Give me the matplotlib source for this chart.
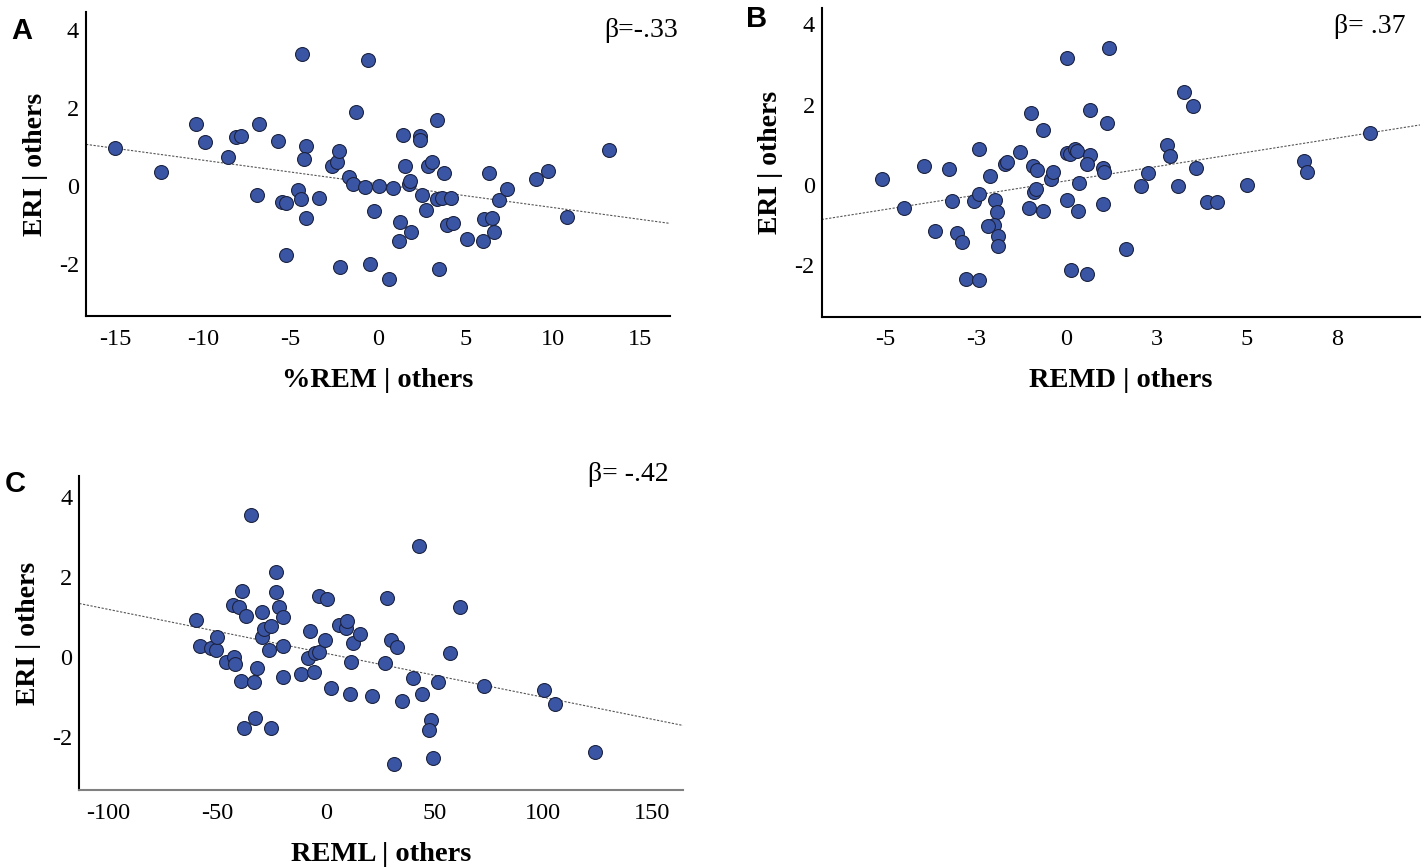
"""
Partial regression plots of ERI against REM sleep measures.
"""
import matplotlib
matplotlib.use('Agg')
import matplotlib.pyplot as plt
import numpy as np

# Panel A: %REM | others vs ERI | others
remPct_x = [-15.03, -12.4, -10.4, -9.92, -8.59, -8.13, -7.85, -6.82, -6.95, -5.75,
            -5.49, -5.28, -5.24, -4.57, -4.42, -4.36, -4.13, -4.23, -4.10, -3.37,
            -2.61, -2.36, -2.21, -2.17, -1.68, -1.41, -1.26, -0.74, -0.59, -0.47,
            -0.25, 0.08, 0.88, 0.65, 1.41, 1.52, 1.26, 1.20, 1.87, 1.75,
            1.85, 2.40, 2.40, 2.53, 2.76, 2.88, 3.09, 3.39, 3.39, 3.64,
            3.79, 4.17, 3.49, 3.92, 4.30, 5.07, 6.02, 6.06, 6.51, 6.65,
            6.36, 6.91, 7.35, 9.03, 9.73, 10.78, 13.18]
remPct_y = [0.97, 0.35, 1.59, 1.14, 0.75, 1.25, 1.29, 1.60, -0.24, 1.15,
            -0.42, -0.44, -1.78, -0.09, -0.33, 3.39, 1.02, 0.69, -0.81, -0.31,
            0.51, 0.61, 0.91, -2.07, 0.22, 0.06, 1.90, -0.03, 3.25, -2.00,
            -0.65, 0.00, -0.06, -2.40, 1.32, 0.51, -0.92, -1.41, -1.19, 0.04,
            0.14, 1.29, 1.18, -0.24, -0.62, 0.52, 0.63, 1.69, -0.34, -0.30,
            0.34, -0.32, -2.12, -0.99, -0.94, -1.36, -1.41, -0.85, -0.82, -1.17,
            0.33, -0.37, -0.07, 0.18, 0.38, -0.80, 0.93]

# Panel B: REMD | others vs ERI | others
remd_x = [-5.09, -4.49, -3.94, -3.63, -3.24, -3.16, -3.03, -2.88, -2.78, -2.42,
          -2.40, -2.56, -2.40, -2.12, -1.97, -1.92, -1.99, -2.15, -1.90, -1.90,
          -1.69, -1.63, -1.27, -0.98, -0.92, -0.81, -1.03, -0.88, -0.83, -0.65,
          -0.65, -0.41, -0.37, 0.02, 0.02, 0.11, 0.25, 0.31, 0.02, 0.36,
          0.32, 0.13, 0.58, 0.66, 0.66, 0.58, 1.01, 1.06, 1.01, 1.13,
          1.19, 1.65, 2.06, 2.26, 2.80, 2.89, 3.10, 3.26, 3.50, 3.59,
          3.91, 4.17, 5.00, 6.60, 6.66, 8.41]
remd_y = [0.15, -0.58, 0.47, -1.14, 0.40, -0.40, -1.20, -1.41, -2.33, -2.37,
          0.89, -0.40, -0.22, 0.22, -0.37, -0.68, -0.99, -1.02, -1.27, -1.53,
          0.53, 0.58, 0.82, 1.80, 0.46, 0.37, -0.57, -0.18, -0.10, 1.37,
          -0.64, 0.14, 0.33, 3.16, 0.80, 0.76, 0.89, 0.85, -0.37, 0.05,
          -0.64, -2.12, -2.21, 1.87, 0.74, 0.52, 0.43, 0.32, -0.47, 1.53,
          3.41, -1.60, -0.02, 0.30, 1.00, 0.72, -0.02, 2.32, 1.97, 0.42,
          -0.42, -0.42, 0.00, 0.59, 0.33, 1.30]

# Panel C: REML | others vs ERI | others
reml_x = [-59.8, -57.8, -52.9, -50.5, -49.9, -46.0, -42.2, -41.7, -42.5, -39.7,
          -38.4, -36.5, -39.1, -33.0, -37.7, -32.4, -25.2, -34.5, -31.5, -29.4,
          -29.3, -28.2, -25.0, -25.9, -22.7, -22.7, -21.3, -19.8, -19.8, -19.8,
          -11.4, -8.3, -7.2, -5.5, -5.1, -3.1, -3.1, 0.7, -0.2, 2.3,
          6.1, 9.2, 9.9, 12.7, 11.6, 11.0, 15.8, 21.2, 28.1, 30.0,
          32.7, 27.3, 35.2, 31.6, 40.3, 44.3, 42.9, 48.3, 47.7, 49.2,
          51.8, 57.2, 61.9, 72.8, 100.4, 105.5, 123.7]
reml_y = [0.92, 0.27, 0.23, 0.17, 0.50, -0.12, 0.00, -0.17, 1.29, 1.25,
          1.65, 1.03, -0.61, -0.64, -1.77, -1.52, -1.79, 3.55, -0.29, 1.13,
          0.50, 0.69, 0.78, 0.18, 2.11, 1.63, 1.24, 1.00, 0.27, -0.51,
          -0.44, -0.02, 0.65, -0.37, 0.10, 0.13, 1.52, 1.45, 0.42, -0.77,
          0.80, 0.73, 0.90, 0.35, -0.12, -0.93, 0.57, -0.97, 1.46, 0.42,
          0.24, -0.15, -1.10, -2.68, -0.52, -0.93, 2.78, -1.57, -1.82, -2.54,
          -0.62, 0.10, 1.25, -0.73, -0.82, -1.18, -2.39]

# Fit lines (intercept, slope)
fit_A = (0.055, -0.0608)
fit_B = (0.10, 0.142)
fit_C = (0.088, -0.01098)

betas = ['β=-.33', 'β= .37', 'β= -.42']
xlabels = ['%REM | others', 'REMD | others', 'REML | others']
ylabel = 'ERI | others'

xticks_B = [-5, -2.5, 0, 2.5, 5, 7.5]
xticklabels_B = ['-5', '-3', '0', '3', '5', '8']

SERIF = 'Liberation Serif'
DOT_FILL = '#3b55a5'
DOT_EDGE = '#1c2340'


def draw_panel(ax, x, y, fit, xlim, ylim, xlabel, beta, beta_xy, bottom_color='black'):
    """
    DESC: Draw one partial regression scatter with its dotted fit line.
    """
    ax.scatter(x, y, s=100, color=DOT_FILL, edgecolor=DOT_EDGE, linewidth=0.8, zorder=3)
    xs = np.array(xlim)
    ax.plot(xs, fit[0] + fit[1] * xs, color='#555555', lw=0.8,
            linestyle=(0, (2, 1.4)), zorder=2)
    ax.set_xlim(xlim)
    ax.set_ylim(ylim)
    ax.set_yticks([-2, 0, 2, 4])
    ax.set_yticklabels(['-2', '0', '2', '4'])
    for side in ['top', 'right']:
        ax.spines[side].set_visible(False)
    ax.spines['left'].set_linewidth(1.5)
    ax.spines['bottom'].set_linewidth(1.5)
    ax.spines['bottom'].set_color(bottom_color)
    ax.tick_params(axis='both', length=0, labelsize=17.5)
    ax.tick_params(axis='x', pad=9)
    ax.tick_params(axis='y', pad=5)
    for lab in ax.get_xticklabels() + ax.get_yticklabels():
        lab.set_fontfamily(SERIF)
    ax.set_xlabel(xlabel, fontsize=20.5, fontweight='bold', family=SERIF, labelpad=13)
    ax.set_ylabel(ylabel, fontsize=20, fontweight='bold', family=SERIF, labelpad=8)
    ax.text(beta_xy[0], beta_xy[1], beta, transform=ax.transAxes, ha='right', va='center',
            fontsize=20, family=SERIF)


fig = plt.figure(figsize=(14.27, 8.67), dpi=100)
axA = fig.add_axes([0.0603, 0.6355, 0.4093, 0.3506])
axB = fig.add_axes([0.5758, 0.6347, 0.4193, 0.356])
axC = fig.add_axes([0.0556, 0.0888, 0.4233, 0.3622])

draw_panel(axA, remPct_x, remPct_y, fit_A, (-16.7, 16.7), (-3.34, 4.47),
           xlabels[0], betas[0], (1.014, 0.94))
axA.set_xticks([-15, -10, -5, 0, 5, 10, 15])
axA.set_xticklabels(['-15', '-10', '-5', '0', '5', '10', '15'], family=SERIF)

draw_panel(axB, remd_x, remd_y, fit_B, (-6.77, 9.8), (-3.28, 4.40),
           xlabels[1], betas[1], (0.975, 0.94))
axB.set_xticks(xticks_B)
axB.set_xticklabels(xticklabels_B, family=SERIF)

draw_panel(axC, reml_x, reml_y, fit_C, (-113.3, 164.5), (-3.33, 4.52),
           xlabels[2], betas[2], (0.975, 1.005), bottom_color='#808080')
axC.set_xticks([-100, -50, 0, 50, 100, 150])
axC.set_xticklabels(['-100', '-50', '0', '50', '100', '150'], family=SERIF)

# Panel letters
for letter, (px, py) in zip('ABC', [(22, 31), (757, 19), (15, 484)]):
    fig.text(px / 1427, 1 - py / 867, letter, ha='center', va='center',
             fontsize=21, fontweight='bold', family='Liberation Sans')

fig.savefig('out.png', dpi=100)
